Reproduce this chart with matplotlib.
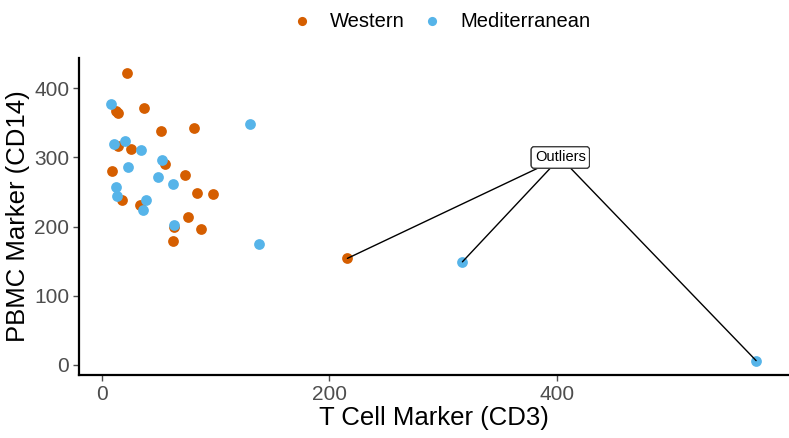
import matplotlib
matplotlib.use("Agg")
import matplotlib.pyplot as plt

plt.rcParams['font.family'] = ['Liberation Sans', 'DejaVu Sans']

# western diet group
west_cd3 = [22.5, 12.3, 14.6, 37, 52.4, 81, 14.6, 26.3, 55.6, 9.4, 73, 84, 97.7,
            18.4, 34, 76, 64, 87, 63, 216]
west_cd14 = [423, 368, 365, 372, 339, 343, 316, 312, 290, 280, 274, 248, 247,
             238, 231, 214, 200, 197, 179, 154]
# mediterranean diet group
med_cd3 = [8.5, 130, 10.8, 20.5, 35, 52.7, 23, 50, 62.6, 12.6, 13.4, 39, 36,
           63.5, 138, 317, 575]
med_cd14 = [377, 348, 319, 324, 311, 297, 286, 272, 261, 257, 244, 239, 224,
            203, 175, 149, 6]

outlier_x = [216, 317, 575]
outlier_y = [154, 149, 6]
label_pos = (403, 300)

fig = plt.figure(figsize=(7.89, 4.38), dpi=100)
ax = fig.add_axes([79 / 789, 63 / 438, 709 / 789, 317 / 438])

ax.scatter(west_cd3, west_cd14, s=60, color='#D55E00', label='Western',
           linewidths=0, zorder=3)
ax.scatter(med_cd3, med_cd14, s=60, color='#56B4E9', label='Mediterranean',
           linewidths=0, zorder=3)

# same label stacked 3 times, each with its own segment clipped at the box
for ox, oy in zip(outlier_x, outlier_y):
    ax.annotate('Outliers', xy=(ox, oy), xytext=label_pos,
                ha='center', va='center', fontsize=10.5,
                bbox=dict(boxstyle='round,pad=0.25,rounding_size=0.2', fc='white',
                          ec='#333333', lw=0.8),
                arrowprops=dict(arrowstyle='-', color='black', lw=1.0,
                                shrinkA=0, shrinkB=0), zorder=4)

ax.set_xlim(-19.8, 603)
ax.set_ylim(-14.8, 444)
ax.set_xticks([0, 200, 400])
ax.set_yticks([0, 100, 200, 300, 400])

for s in ['top', 'right']:
    ax.spines[s].set_visible(False)
for s in ['left', 'bottom']:
    ax.spines[s].set_linewidth(1.6)
    ax.spines[s].set_color('black')
ax.tick_params(colors='#4D4D4D', labelsize=15, length=4, width=1.0)
ax.tick_params(axis='x', pad=3)
ax.tick_params(axis='y', pad=3)

ax.set_xlabel('T Cell Marker (CD3)', fontsize=18.5, labelpad=2)
ax.set_ylabel('PBMC Marker (CD14)', fontsize=18.5, labelpad=3)

fig.legend(loc='upper center', bbox_to_anchor=(0.553, 1.015), ncol=2,
           frameon=False, fontsize=14.5, handletextpad=0.4, columnspacing=0.35,
           markerscale=0.85)

fig.savefig('out.png', dpi=100)
